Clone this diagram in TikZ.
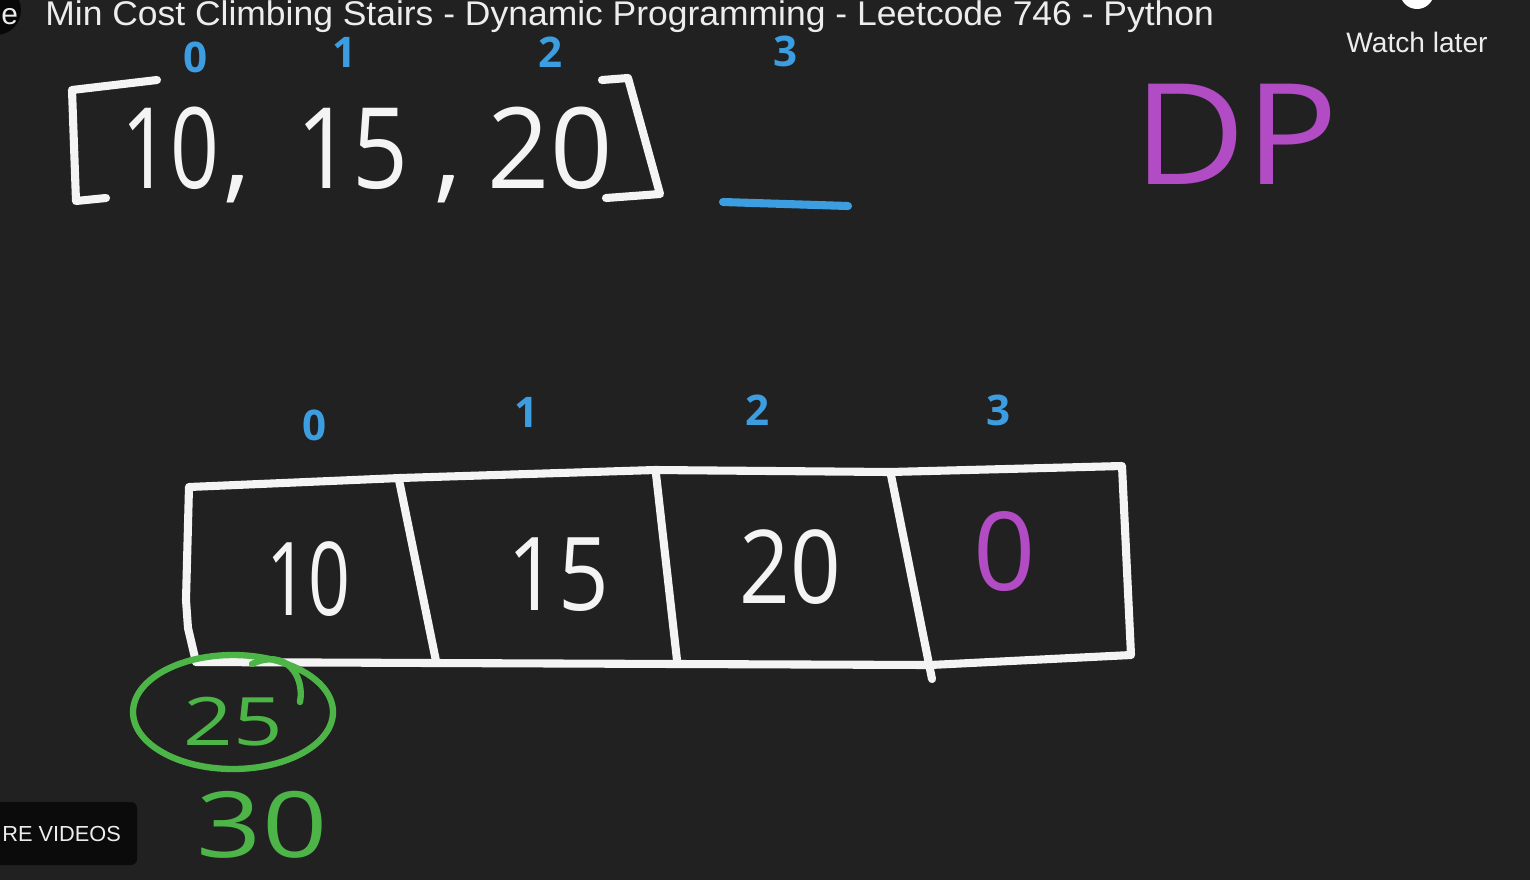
\documentclass[tikz,border=0pt]{standalone}
\usepackage{fontspec}
\setmainfont{Open Sans}
\newfontfamily\uifont{Liberation Sans}
\definecolor{bg}{HTML}{212121}
\definecolor{chalk}{HTML}{F4F4F4}
\definecolor{idx}{HTML}{3C9EE0}
\definecolor{dpm}{HTML}{B24CC4}
\definecolor{grn}{HTML}{4DB548}
\definecolor{pill}{HTML}{0B0B0B}
\definecolor{uitext}{HTML}{EDEDED}
\tikzset{
  hand/.style={line width=4.6pt, line cap=round, line join=round, draw=chalk},
  bluestroke/.style={line width=4.6pt, line cap=round, draw=idx},
  grnstroke/.style={line width=3.6pt, line cap=round, draw=grn},
  bignum/.style={text=chalk, inner sep=0pt, font=\fontsize{64}{64}\selectfont},
  cellnum/.style={text=chalk, inner sep=0pt, font=\fontsize{58}{58}\selectfont},
  idxnum/.style={text=idx, inner sep=0pt, font=\fontsize{24}{24}\selectfont\bfseries},
  uilabel/.style={text=uitext, inner sep=0pt},
}
\begin{document}
\begin{tikzpicture}[x=0.02cm, y=-0.02cm]
\useasboundingbox (0,0) rectangle (1530,880);
\fill[bg] (0,0) rectangle (1530,880);

% ---------- YouTube overlay ----------
\fill[black!75!bg] (-4,10) circle [radius=0.5cm];
\node[uilabel, font=\uifont\fontsize{17}{20}\selectfont, anchor=base west] (avatar) at (1,24) {e};
\node[uilabel, font=\uifont\fontsize{19.5}{24}\selectfont, anchor=base west, xscale=1.035] (title) at (45,25)
  {Min Cost Climbing Stairs - Dynamic Programming - Leetcode 746 - Python};
\fill[white] (1417,-8) circle [radius=0.34cm];
\node[uilabel, font=\uifont\fontsize{16}{18}\selectfont, anchor=base] (watch) at (1417,52) {Watch later};
\fill[pill, rounded corners=0.12cm] (-10,802) rectangle (137,865);
\node[uilabel, font=\uifont\fontsize{12.4}{15}\selectfont, anchor=base west] (more) at (2,841) {RE VIDEOS};

% ---------- top array ----------
\node[idxnum] (t0) at (196,57) {0};
\node[idxnum] (t1) at (345,52) {1};
\node[idxnum] (t2) at (551,52) {2};
\node[idxnum] (t3) at (786,51) {3};

\draw[hand] (157,80) -- (72,90) -- (76,201) -- (106,198);
\node[bignum, anchor=base, xscale=0.76] (a10) at (170,188) {10};
\node[bignum, anchor=base] (k1) at (237,188) {,};
\node[bignum, anchor=base, xscale=0.87] (a15) at (352,188) {15};
\node[bignum, anchor=base] (k2) at (448,188) {,};
\node[bignum, anchor=base, xscale=0.97] (a20) at (550,188) {20};
\draw[hand] (602,80) -- (628,78) -- (660,194) -- (606,198);
\draw[bluestroke] (723,202) -- (848,206);

% ---------- DP ----------
\node[text=dpm, inner sep=0pt, font=\fontsize{80}{80}\selectfont, anchor=base, xscale=1.1] (dp) at (1236,184) {DP};

% ---------- bottom array ----------
\node[idxnum] (b0) at (315,425) {0};
\node[idxnum] (b1) at (527,412) {1};
\node[idxnum] (b2) at (758,410) {2};
\node[idxnum] (b3) at (999,410) {3};

\coordinate (tl) at (189,487);
\coordinate (tr) at (1122,466);
\coordinate (br) at (1131,655);
\coordinate (bl) at (196,662);
\draw[hand] (tl) -- (400,478) -- (655,470) -- (890,472) -- (tr) -- (br) -- (930,665) -- (680,664) -- (435,663) -- (bl) -- (188,628) -- (186,600) -- (tl);
\draw[hand] (399,480) -- (436,661);
\draw[hand] (656,474) -- (677,660);
\draw[hand] (891,475) -- (932,679);

\node[cellnum, anchor=base, xscale=0.72] (c0) at (308,615) {10};
\node[cellnum, anchor=base, xscale=0.87] (c1) at (558,610) {15};
\node[cellnum, anchor=base, xscale=0.87] (c2) at (790,603) {20};
\node[text=dpm, inner sep=0pt, font=\fontsize{62}{62}\selectfont, anchor=base] (c3) at (1005,590) {0};

% ---------- green notes ----------
\draw[grnstroke] (233,712) ellipse [x radius=2cm, y radius=1.14cm];
\draw[grnstroke] (252,664) .. controls (285,648) and (305,675) .. (300,702);
\node[text=grn, inner sep=0pt, font=\fontsize{38}{38}\selectfont, anchor=base, xscale=1.3] (g25) at (233,745) {25};
\node[text=grn, inner sep=0pt, font=\fontsize{52}{52}\selectfont, anchor=base, xscale=1.25] (g30) at (262,857) {30};
\end{tikzpicture}
\end{document}
